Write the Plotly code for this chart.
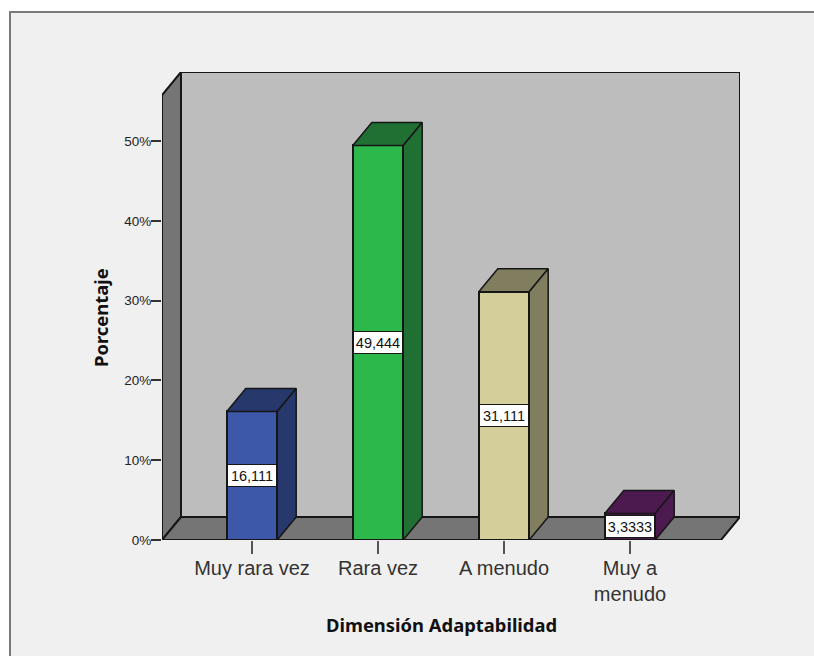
import plotly.graph_objects as go

categories = ["Muy rara vez", "Rara vez", "A menudo", "Muy a<br>menudo"]
values = [16.111, 49.444, 31.111, 3.3333]
value_labels = ["16,111", "49,444", "31,111", "3,3333"]
front_colors = ["#3d58a8", "#2db84c", "#d4cf9a", "#4d1a50"]
side_colors = ["#26386c", "#1f7032", "#807e5e", "#4d1a50"]
y_ticks = [0, 10, 20, 30, 40, 50]
y_tick_labels = ["0%", "10%", "20%", "30%", "40%", "50%"]
x_title = "Dimensión Adaptabilidad"
y_title = "Porcentaje"

L, R, T, B = 162, 740, 72, 540
PX_X = 126.0
PX_Y = 7.98
X0 = (L - 252) / PX_X
X1 = (R - 252) / PX_X
Y1 = (B - T) / PX_Y
DX = 19 / PX_X
DY = 23 / PX_Y
BAR = 0.4
INK = "#161616"
FONT = "Liberation Sans, Arial, sans-serif"
TITLE_FONT = "Noto Sans, sans-serif"
xs = list(range(len(categories)))

def px(v):
    return (v - L) / (R - L)

def py(v):
    return (B - v) / (B - T)

shapes = [
    dict(type="rect", xref="paper", yref="paper", x0=px(10), x1=px(830), y0=py(12), y1=py(670),
         fillcolor="#f0f0f0", line=dict(color="#7a7a7a", width=2), layer="below"),
]
def poly(pts, fill):
    path = "M " + " L ".join(f"{a},{b}" for a, b in pts) + " Z"
    shapes.append(dict(type="path", path=path, xref="x", yref="y", fillcolor=fill,
                       line=dict(color=INK, width=2), layer="below"))

poly([(X0 + DX, DY), (X1, DY), (X1, Y1), (X0 + DX, Y1)], "#bdbdbd")
poly([(X0, 0), (X0 + DX, DY), (X0 + DX, Y1), (X0, Y1 - DY)], "#757575")
poly([(X0, 0), (X1 - DX, 0), (X1, DY), (X0 + DX, DY)], "#757575")

fig = go.Figure()
fig.add_trace(go.Bar(x=xs, y=values, width=BAR, marker=dict(color=front_colors, line=dict(color=INK, width=2)),
                     showlegend=False, hoverinfo="skip"))
for x, v, sc in zip(xs, values, side_colors):
    l, r = x - BAR / 2, x + BAR / 2
    fig.add_trace(go.Scatter(x=[l, l + DX, r + DX, r, l], y=[v, v + DY, v + DY, v, v], mode="lines",
                             fill="toself", fillcolor=sc, line=dict(color=INK, width=1.5),
                             showlegend=False, hoverinfo="skip"))
    fig.add_trace(go.Scatter(x=[r, r + DX, r + DX, r, r], y=[0, DY, v + DY, v, 0], mode="lines",
                             fill="toself", fillcolor=sc, line=dict(color=INK, width=1.5),
                             showlegend=False, hoverinfo="skip"))

annotations = [
    dict(x=x, y=v / 2, text=t, showarrow=False, bgcolor="#ffffff", bordercolor=INK, borderwidth=1,
         width=48, height=21, borderpad=0, font=dict(family=FONT, size=14.5, color="#111111"))
    for x, v, t in zip(xs, values, value_labels)
]
annotations.append(dict(xref="paper", yref="paper", x=px(441), y=py(624), text=f"<b>{x_title}</b>", showarrow=False,
                        xanchor="center", yanchor="middle", font=dict(family=TITLE_FONT, size=18.4, color="#111111")))
annotations.append(dict(xref="paper", yref="paper", x=px(100), y=py(318), text=f"<b>{y_title}</b>", showarrow=False,
                        textangle=-90, xanchor="center", yanchor="middle",
                        font=dict(family=TITLE_FONT, size=18.4, color="#111111")))

fig.update_layout(
    width=814, height=656, autosize=False,
    margin=dict(l=L, r=814 - R, t=T, b=656 - B),
    paper_bgcolor="#ffffff", plot_bgcolor="rgba(0,0,0,0)",
    shapes=shapes, annotations=annotations, showlegend=False, bargap=0,
    xaxis=dict(range=[X0, X1], tickmode="array", tickvals=xs, ticktext=categories, showgrid=False, zeroline=False,
               ticks="outside", ticklen=13, tickwidth=2, tickcolor="#555555", showline=False, ticklabelstandoff=-3,
               tickfont=dict(family=FONT, size=20, color="#333333")),
    yaxis=dict(range=[0, Y1], tickmode="array", tickvals=y_ticks, ticktext=y_tick_labels, showgrid=False, zeroline=False,
               ticks="outside", ticklen=10, tickwidth=1.5, tickcolor="#333333", showline=False, ticklabelstandoff=-3,
               tickfont=dict(family=FONT, size=13.5, color="#222222")),
)
fig.write_html("out.html", post_script="document.body.style.margin='0';document.body.style.overflow='hidden';",
               config=dict(displayModeBar=False))
